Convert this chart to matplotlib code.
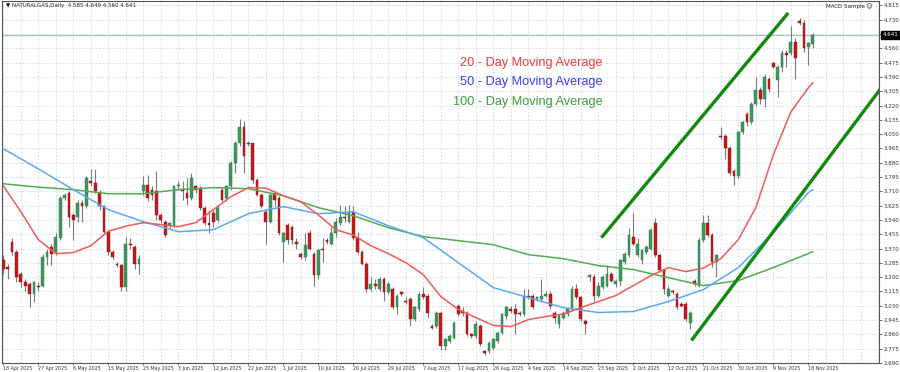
import matplotlib
matplotlib.use("Agg")
import matplotlib.pyplot as plt
import numpy as np

# ---------------- data ----------------
opens = [3.30,3.26,3.41,3.35,3.22,3.17,3.16,3.10,3.15,3.15,3.32,3.38,3.35,3.43,3.67,3.70,3.57,3.56,3.64,3.62,
         3.77,3.76,3.70,3.62,3.47,3.35,3.28,3.27,3.14,3.40,3.38,3.28,3.71,3.75,3.72,3.71,3.57,3.53,3.51,3.51,
         3.74,3.72,3.70,3.67,3.74,3.73,3.61,3.52,3.58,3.54,3.72,3.67,3.74,3.88,4.00,4.09,4.00,4.00,3.78,3.69,
         3.59,3.53,3.70,3.67,3.41,3.51,3.50,3.41,3.34,3.32,3.46,3.34,3.21,3.37,3.42,3.40,3.46,3.52,3.56,3.53,
         3.59,3.43,3.35,3.28,3.13,3.16,3.13,3.19,3.11,3.13,3.02,3.11,3.06,3.07,2.95,3.01,3.10,3.09,2.91,2.91,
         2.99,2.79,2.82,2.84,3.03,3.00,2.99,2.86,2.85,2.91,2.76,2.76,2.78,2.82,2.87,2.97,3.01,3.01,2.99,2.98,
         3.09,3.09,3.07,3.07,3.09,3.10,2.99,2.92,2.96,2.98,3.01,3.13,3.08,2.94,3.20,3.20,3.09,3.14,3.15,3.22,
         3.16,3.18,3.29,3.33,3.44,3.33,3.30,3.35,3.37,3.52,3.33,3.24,3.09,3.12,3.10,3.04,3.04,2.93,3.18,3.15,
         3.42,3.52,3.45,3.29,4.04,4.04,3.97,3.83,3.80,4.06,4.17,4.12,4.23,4.31,4.26,4.38,4.47,4.37,4.45,4.53,
         4.53,4.60,4.72,4.71,4.57,4.585]
highs = [3.33,3.28,3.43,3.36,3.23,3.19,3.17,3.18,3.17,3.34,3.37,3.40,3.46,3.68,3.70,3.71,3.58,3.66,3.66,3.80,
         3.84,3.84,3.72,3.63,3.48,3.36,3.29,3.28,3.44,3.43,3.39,3.33,3.80,3.81,3.74,3.83,3.58,3.54,3.53,3.75,
         3.77,3.77,3.79,3.82,3.75,3.74,3.62,3.60,3.60,3.62,3.73,3.75,3.89,4.01,4.14,4.13,4.01,4.00,3.79,3.70,
         3.60,3.70,3.71,3.68,3.47,3.52,3.51,3.43,3.35,3.46,3.48,3.35,3.37,3.43,3.43,3.50,3.55,3.63,3.62,3.63,
         3.62,3.47,3.36,3.29,3.20,3.19,3.20,3.20,3.17,3.14,3.10,3.12,3.08,3.08,3.03,3.11,3.14,3.10,2.92,3.00,
         3.00,2.84,2.86,2.94,3.04,3.02,3.00,2.87,2.94,2.92,2.77,2.82,2.84,2.88,2.99,3.03,3.03,3.04,3.00,3.13,
         3.13,3.10,3.09,3.19,3.12,3.12,3.00,2.98,3.00,3.02,3.15,3.16,3.09,2.95,3.22,3.22,3.17,3.21,3.27,3.23,
         3.19,3.31,3.35,3.49,3.58,3.43,3.37,3.39,3.49,3.55,3.34,3.25,3.15,3.13,3.11,3.05,3.05,3.00,3.19,3.43,
         3.57,3.57,3.46,3.34,4.09,4.05,3.98,3.84,4.07,4.13,4.18,4.24,4.39,4.33,4.41,4.39,4.48,4.46,4.55,4.55,
         4.69,4.62,4.74,4.73,4.60,4.649]
lows = [3.22,3.19,3.33,3.17,3.14,3.12,3.02,3.05,3.12,3.14,3.27,3.27,3.33,3.42,3.66,3.50,3.42,3.53,3.53,3.61,
        3.74,3.70,3.60,3.46,3.33,3.31,3.26,3.12,3.12,3.37,3.25,3.22,3.69,3.65,3.66,3.54,3.52,3.44,3.49,3.50,
        3.72,3.66,3.63,3.66,3.70,3.60,3.51,3.46,3.50,3.53,3.65,3.65,3.72,3.82,3.98,3.82,3.98,3.76,3.68,3.61,
        3.40,3.52,3.62,3.45,3.29,3.40,3.40,3.37,3.31,3.30,3.36,3.15,3.19,3.29,3.40,3.39,3.44,3.51,3.53,3.52,
        3.42,3.34,3.27,3.11,3.12,3.13,3.12,3.06,3.10,3.01,2.98,3.09,3.04,2.91,2.94,3.00,3.07,2.96,2.89,2.90,
        2.77,2.77,2.81,2.83,2.97,2.97,2.85,2.84,2.84,2.79,2.74,2.75,2.77,2.81,2.86,2.95,2.99,2.86,2.97,2.97,
        3.07,3.01,3.06,3.05,3.08,3.01,2.93,2.90,2.95,2.97,3.00,3.07,2.94,2.86,3.18,3.06,3.08,3.13,3.14,3.17,
        3.14,3.15,3.28,3.32,3.39,3.32,3.28,3.34,3.36,3.32,3.23,3.10,3.08,3.10,3.01,3.02,2.94,2.89,3.15,3.14,
        3.41,3.44,3.26,3.20,4.02,3.90,3.81,3.75,3.79,4.05,4.10,4.11,4.22,4.23,4.21,4.30,4.44,4.27,4.42,4.45,
        4.52,4.38,4.70,4.54,4.46,4.560]
closes = [3.25,3.25,3.35,3.20,3.17,3.15,3.10,3.17,3.14,3.32,3.35,3.34,3.44,3.67,3.69,3.56,3.54,3.64,3.62,3.79,
          3.76,3.71,3.62,3.47,3.35,3.32,3.27,3.14,3.40,3.39,3.28,3.31,3.75,3.67,3.69,3.57,3.54,3.45,3.52,3.74,
          3.75,3.71,3.67,3.79,3.72,3.61,3.52,3.51,3.53,3.61,3.66,3.74,3.88,4.00,4.09,3.92,3.99,3.78,3.69,3.62,
          3.53,3.69,3.66,3.46,3.46,3.42,3.42,3.40,3.32,3.39,3.37,3.21,3.36,3.36,3.41,3.46,3.53,3.56,3.55,3.58,
          3.43,3.35,3.28,3.13,3.16,3.15,3.19,3.11,3.16,3.02,3.09,3.10,3.05,2.95,3.02,3.10,3.08,2.99,2.90,2.99,
          2.79,2.83,2.85,2.93,2.98,2.99,2.86,2.85,2.92,2.80,2.75,2.81,2.83,2.87,2.98,3.02,3.00,2.98,2.98,3.08,
          3.08,3.02,3.08,3.09,3.10,3.03,2.96,2.97,2.99,3.01,3.13,3.08,2.95,2.92,3.21,3.09,3.15,3.20,3.22,3.18,
          3.18,3.30,3.34,3.45,3.40,3.40,3.36,3.38,3.48,3.33,3.24,3.13,3.13,3.11,3.02,3.03,2.95,2.99,3.16,3.42,
          3.52,3.45,3.29,3.33,4.03,3.97,3.82,3.80,4.06,4.12,4.12,4.23,4.31,4.26,4.39,4.32,4.45,4.45,4.53,4.52,
          4.60,4.50,4.71,4.56,4.59,4.641]

ma20_bars = [0,4,8,12,16,20,24,28,32,36,40,44,48,52,56,60,64,68,72,76,80,84,88,92,96,100,104,108,112,116,
             120,124,128,132,136,140,144,148,152,156,160,164,168,172,176,180,184,185]
ma20 = [3.743,3.589,3.423,3.340,3.346,3.387,3.473,3.503,3.524,3.512,3.500,3.524,3.601,3.678,3.732,3.729,
        3.684,3.648,3.570,3.482,3.450,3.387,3.340,3.286,3.215,3.085,3.008,2.960,2.913,2.906,2.948,2.966,
        2.981,3.019,3.055,3.091,3.150,3.209,3.257,3.233,3.254,3.310,3.423,3.613,3.927,4.182,4.325,4.355]
ma_bars = [0,8,16,24,32,40,48,56,64,72,80,88,96,104,112,120,128,136,144,152,160,168,176,184,185]
ma50 = [3.963,3.844,3.720,3.601,3.530,3.470,3.482,3.577,3.619,3.577,3.589,3.506,3.435,3.286,3.138,3.079,
        3.019,2.990,2.996,3.055,3.126,3.257,3.464,3.702,3.720]
ma100 = [3.755,3.735,3.720,3.696,3.696,3.720,3.732,3.726,3.684,3.613,3.565,3.494,3.441,3.417,3.393,3.334,
         3.310,3.269,3.245,3.197,3.150,3.180,3.257,3.340,3.352]

upper_line_bars = [136.7, 179.4]
upper_line_price = [3.435, 4.770]
lower_line_bars = [157.3, 200.5]
lower_line_price = [2.824, 4.319]

date_labels = ["18 Apr 2025","27 Apr 2025","6 May 2025","15 May 2025","25 May 2025","3 Jun 2025",
               "12 Jun 2025","22 Jun 2025","1 Jul 2025","10 Jul 2025","20 Jul 2025","29 Jul 2025",
               "7 Aug 2025","17 Aug 2025","26 Aug 2025","4 Sep 2025","14 Sep 2025","23 Sep 2025",
               "2 Oct 2025","12 Oct 2025","21 Oct 2025","30 Oct 2025","9 Nov 2025","18 Nov 2025"]
date_bars = [0,8,16,24,32,40,48,56,64,72,80,88,96,104,112,120,128,136,144,152,160,168,176,184]
y_ticks = [2.690,2.775,2.860,2.945,3.030,3.115,3.200,3.285,3.370,3.455,3.540,3.625,3.710,3.795,3.880,
           3.965,4.050,4.135,4.220,4.305,4.390,4.475,4.560,4.645,4.730,4.815]
header = "NATURALGAS,Daily  4.585 4.649 4.560 4.641"

# ---------------- figure ----------------
W, H = 900, 372
fig = plt.figure(figsize=(9, 3.72), dpi=100)
ax = fig.add_axes([2 / W, 1 - 363 / H, 877 / W, 362 / H])
ax.set_xlim(-0.3, 200.15)
ax.set_ylim(2.690, 4.841)

grid_kw = dict(color="#c9d6ea", lw=0.6, ls=(0, (2, 2)), zorder=0)
for v in range(0, 201, 4):
    ax.axvline(v, **grid_kw)
for t in y_ticks:
    ax.axhline(t, **grid_kw)

# current price line
ax.axhline(closes[-1], color="#aebfd8", lw=0.9, zorder=1)

# candles
x = np.arange(len(closes))
o = np.array(opens); c = np.array(closes); h = np.array(highs); l = np.array(lows)
up = c >= o
ax.vlines(x, l, h, color="#7a7a7a", lw=0.8, zorder=2)
bottom = np.minimum(o, c)
height = np.maximum(np.abs(c - o), 0.008)
ax.bar(x[up], height[up], bottom=bottom[up], width=0.62, color="#3c9a5f",
       edgecolor="#2a6e44", lw=0.3, zorder=3)
ax.bar(x[~up], height[~up], bottom=bottom[~up], width=0.62, color="#c41a1a",
       edgecolor="#8e1010", lw=0.3, zorder=3)

# moving averages
ax.plot(ma_bars, ma100, color="#55aa4f", lw=1.1, zorder=4)
ax.plot(ma_bars, ma50, color="#5aaaf0", lw=1.1, zorder=4)
ax.plot(ma20_bars, ma20, color="#f25a5a", lw=1.1, zorder=4)

# channel lines
ax.plot(upper_line_bars, upper_line_price, color="#0f8a0f", lw=2.4, zorder=5, solid_capstyle="butt")
ax.plot(lower_line_bars, lower_line_price, color="#0f8a0f", lw=2.4, zorder=5, solid_capstyle="butt")

# legend texts
txt_kw = dict(transform=ax.transAxes, ha="right", va="center", fontsize=9.2, family="Liberation Sans")
ax.text(0.685, 0.829, "20 - Day Moving Average", color="#ee3c3c", **txt_kw)
ax.text(0.685, 0.777, "50 - Day Moving Average", color="#3c3cf0", **txt_kw)
ax.text(0.685, 0.722, "100 - Day Moving Average", color="#3f9a3f", **txt_kw)

# axes styling
for s in ax.spines.values():
    s.set_color("#555555"); s.set_linewidth(0.8)
ax.yaxis.tick_right()
ax.set_yticks(y_ticks)
ax.set_yticklabels([f"{t:.3f}" for t in y_ticks])
ax.tick_params(axis="y", labelsize=4.0, length=2, width=0.5, pad=1.5, colors="#333333")
ax.set_xticks(date_bars)
ax.set_xticklabels(date_labels, ha="left")
ax.tick_params(axis="x", labelsize=3.4, length=1.5, width=0.5, pad=0.8, colors="#333333")

# price box
ax.annotate(f"{closes[-1]:.3f}", xy=(1.0, closes[-1]), xycoords=("axes fraction", "data"),
            xytext=(2.5, 0), textcoords="offset points", ha="left", va="center",
            fontsize=4.0, color="white",
            bbox=dict(boxstyle="square,pad=0.25", fc="black", ec="black"), zorder=10,
            annotation_clip=False)

fig.text(6 / W, 1 - 6 / H, "\u25bc " + header, fontsize=4.0, va="center", ha="left", color="#222222")
fig.text(872 / W, 1 - 6 / H, "MACD Sample \u263a", fontsize=4.0, va="center", ha="right", color="#222222")

fig.savefig("out.png", dpi=100, facecolor="white")
